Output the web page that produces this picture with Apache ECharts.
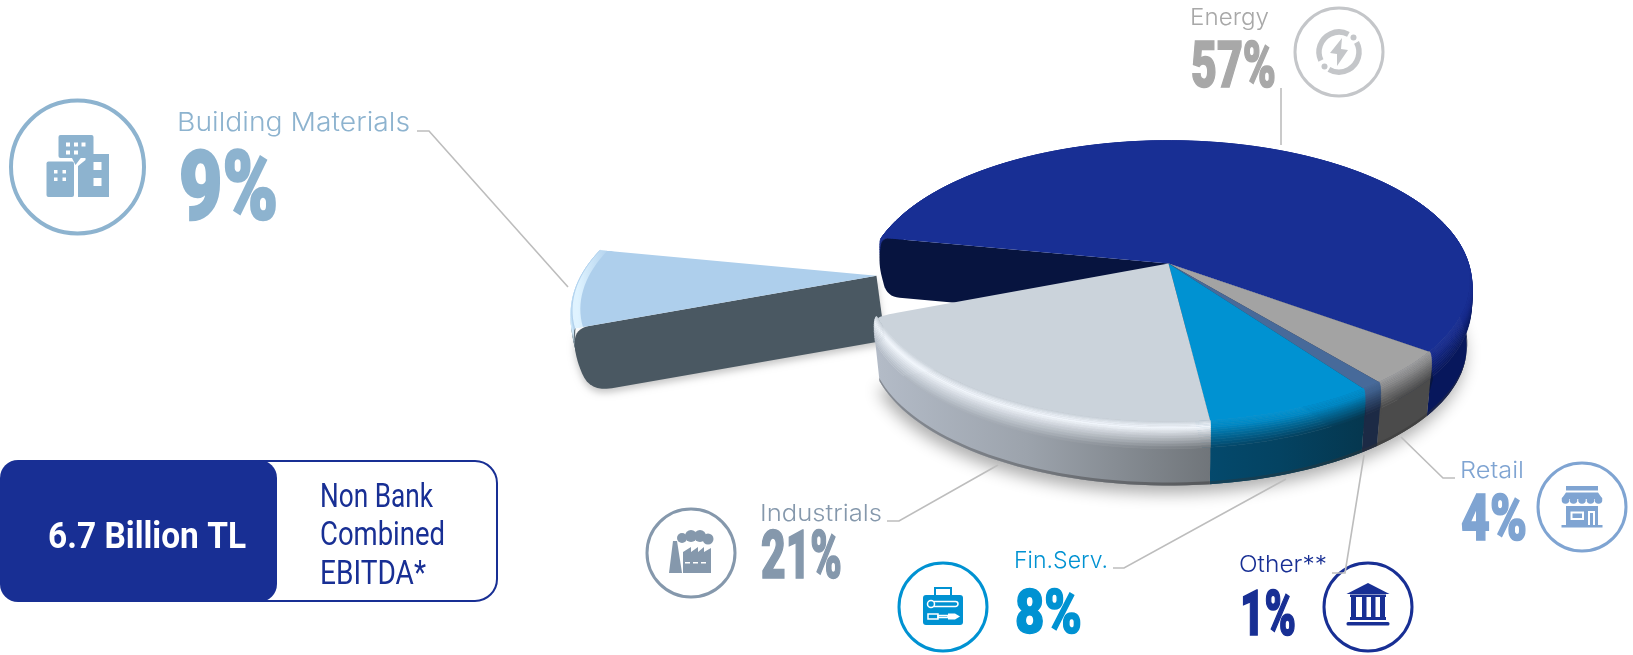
<!DOCTYPE html>
<html>
<head>
<meta charset="utf-8">
<style>html,body{margin:0;padding:0;background:#fff}#chart{width:1633px;height:655px}</style>
<script src="https://cdn.jsdelivr.net/npm/echarts@6/dist/echarts.min.js"></script>
</head>
<body>
<div id="chart"></div>
<script>
// Non-bank combined EBITDA by sector, clockwise from the back-left edge of Energy
const sectorNames = ['Energy', 'Retail', 'Other**', 'Fin.Serv.', 'Industrials', 'Building Materials'];
const sectorValues = [57, 4, 1, 8, 21, 9];
const explodedShare = [0, 0, 0, 0, 0, 0.97];

const totalLabel = '6.7 Billion TL';
const totalCaption = ['Non Bank', 'Combined', 'EBITDA*'];

const NAVY = '#182F94';

// Surface colours for each slice
const sliceSkins = [
  { face: '#182F94', glow: '#15298a', wallL: '#07175c', wallR: '#07175c', cut: '#07143f', corner: 8, reach: 1, cutDepth: 0.9 },
  { face: '#a3a3a3', glow: '#8e8e8e', wallL: '#4b4b4b', wallR: '#4b4b4b', cut: '#4b4b4b', corner: 0, reach: 1, cutDepth: 0.9 },
  { face: '#476a9a', glow: '#3e5f8c', wallL: '#1c2a45', wallR: '#1c2a45', cut: '#1c2a45', corner: 0, reach: 1, cutDepth: 0.9 },
  { face: '#0092d2', glow: '#0088c4', wallL: '#04496c', wallR: '#05374f', cut: '#04496c', corner: 0, reach: 1, cutDepth: 0.9 },
  { face: '#cbd3db', glow: '#f1f6fc', wallL: '#b3bbc7', wallR: '#70757a', cut: '#b3bbc7', corner: 22, reach: 1, cutDepth: 0.9 },
  { face: '#aecfec', glow: '#d8f0ff', wallL: '#4a5862', wallR: '#4a5862', cut: '#4a5862', corner: 14, reach: 0.975, cutDepth: 1 }
];
// Back slices first so the nearer ones overlap them
const paintRank = [0, 2, 3, 4, 5, 1];

// Ground-plane projection of the pie
const PIE = { cx: 1168.5, cy: 263.5, a: 299, b: 138.3, k: 0.126, depth: 65, shrink: 0.03, start: 281 };

function project(phiDeg, r, z, ex, ey) {
  const p = phiDeg * Math.PI / 180;
  const u = r * Math.sin(p) + ex;
  const v = -r * Math.cos(p) + ey;
  const d = 1 - PIE.k * v;
  const s = 1 - PIE.shrink * z;
  return [PIE.cx + PIE.a * u / d * s, PIE.cy + PIE.b * v / d * s + PIE.depth * z];
}

function arcPhis(a0, a1, step) {
  const n = Math.max(2, Math.ceil((a1 - a0) / step));
  const out = [];
  for (let i = 0; i <= n; i++) out.push(a0 + (a1 - a0) * i / n);
  return out;
}

function hexRgb(h) { return [1, 3, 5].map(i => parseInt(h.substr(i, 2), 16)); }
function mix(c1, c2, t) {
  const a = hexRgb(c1), b = hexRgb(c2);
  return '#' + a.map((v, i) => Math.round(v + (b[i] - v) * t).toString(16).padStart(2, '0')).join('');
}

// Replace listed polygon corners with short curves
function softenCorners(pts, corners) {
  const out = [];
  pts.forEach((p, i) => {
    const r = corners[i];
    if (!r) { out.push(p); return; }
    const prev = pts[(i - 1 + pts.length) % pts.length];
    const next = pts[(i + 1) % pts.length];
    const toward = (q) => {
      const dx = q[0] - p[0], dy = q[1] - p[1], l = Math.hypot(dx, dy) || 1, m = Math.min(r, l / 2);
      return [p[0] + dx / l * m, p[1] + dy / l * m];
    };
    const a = toward(prev), b = toward(next);
    for (let j = 0; j <= 8; j++) {
      const t = j / 8, w = 1 - t;
      out.push([w * w * a[0] + 2 * w * t * p[0] + t * t * b[0], w * w * a[1] + 2 * w * t * p[1] + t * t * b[1]]);
    }
  });
  return out;
}

function sideGradient(left, right, x0, x1) {
  return { type: 'linear', x: x0, y: 0, x2: x1, y2: 0, global: true,
    colorStops: [{ offset: 0, color: left }, { offset: 0.45, color: mix(left, right, 0.35) }, { offset: 1, color: right }] };
}

// Longest unbroken stretch of the arc whose outer wall can show
function frontRun(phis) {
  let best = [], run = [];
  phis.forEach(p => {
    if (-Math.cos(p * Math.PI / 180) > -0.5) {
      run.push(p);
      if (run.length > best.length) best = run;
    } else {
      run = [];
    }
  });
  return best;
}

function renderSlice(params, api) {
  const i = params.dataIndex;
  const value = api.value(0);
  const total = sectorValues.reduce((s, v) => s + v, 0);
  const before = sectorValues.slice(0, i).reduce((s, v) => s + v, 0);
  const a0 = PIE.start + before / total * 360;
  const a1 = a0 + value / total * 360;
  const mid = (a0 + a1) / 2 * Math.PI / 180;
  const ex = explodedShare[i] * Math.sin(mid);
  const ey = -explodedShare[i] * Math.cos(mid);
  const skin = sliceSkins[i];
  const base = paintRank[i] * 100 + 10;
  const phis = arcPhis(a0, a1, 2);
  const at = (phi, r, z) => project(phi, r * skin.reach, z, ex, ey);
  const kids = [];

  // Soft ground shadow below the attached slices
  if (i === 4) {
    const ring = arcPhis(a0 - 110, a1, 3).map(p => at(p, 1.02, 1));
    kids.push({ type: 'polygon', z2: -50, shape: { points: ring }, style: {
      fill: '#9a9a9a', shadowBlur: 16, shadowColor: 'rgba(0,0,0,0.32)', shadowOffsetX: -2, shadowOffsetY: 8 } });
  }

  const outer = phis.map(p => at(p, 1.012, 0.5));
  const xs = outer.map(q => q[0]);
  const x0 = Math.min.apply(null, xs), x1 = Math.max.apply(null, xs);

  // Outer wall and rounded rim, bottom band first
  const front = explodedShare[i] > 0 ? [] : frontRun(phis);
  if (front.length > 1) {
    const bot = front.map(p => at(p, 1.02, 1));
    const top = front.map(p => at(p, 1.016, 0.4));
    kids.push({ type: 'polygon', z2: base, shape: { points: top.concat(bot.reverse()) },
      style: { fill: sideGradient(skin.wallL, skin.wallR, x0, x1) } });
    const lipA = front.map(p => at(p, 1.02, 0.95));
    const lipB = front.map(p => at(p, 1.02, 1));
    kids.push({ type: 'polygon', z2: base + 1, shape: { points: lipA.concat(lipB.reverse()) },
      style: { fill: sideGradient(mix(skin.wallL, '#333333', 0.35), mix(skin.wallR, '#333333', 0.45), x0, x1) } });
  }
  const steps = 14;
  for (let s = steps - 1; s >= 0; s--) {
    const t0 = s / steps, t1 = (s + 1) / steps;
    const q = (t) => ({ r: 1 + 0.016 * Math.sin(t * Math.PI / 2), z: 0.4 * (1 - Math.cos(t * Math.PI / 2)) });
    const band = (t) => phis.map(p => at(p, q(t).r, q(t).z));
    const tm = (t0 + t1) / 2;
    const shade = (wall) => tm < 0.4 ? mix(skin.face, skin.glow, tm / 0.4) : mix(skin.glow, wall, (tm - 0.4) / 0.6);
    const fill = sideGradient(shade(skin.wallL), shade(skin.wallR), x0, x1);
    kids.push({ type: 'polygon', z2: base + 10 + (steps - s),
      shape: { points: band(t0).concat(band(t1).reverse()) },
      style: { fill: fill, stroke: fill, lineWidth: 0.6 } });
  }

  // Radial cut walls that turn toward the viewer, with a bulge at the rim
  const cutWall = (phi, rank, soft) => {
    const dz = skin.cutDepth;
    const pts = [at(phi, 1, 0), at(phi, 0, 0), at(phi, 0, dz), at(phi, 1.01, dz), at(phi, 1.025, 0.4)];
    kids.push({ type: 'polygon', z2: base + 40 + rank, shape: { points: softenCorners(pts, [soft, 0, 0, soft * 1.6, soft * 1.6]) },
      style: Object.assign({ fill: skin.cut }, i === 5 ? { shadowBlur: 7, shadowColor: 'rgba(0,0,0,0.22)', shadowOffsetY: 4 } : {}) });
  };
  if (-Math.cos((a1 + 90) * Math.PI / 180) > 0) cutWall(a1, 0, 0);
  if (-Math.cos((a0 - 90) * Math.PI / 180) > 0) cutWall(a0, 1, skin.corner);

  // Flat top of the slice
  const rim = phis.map(p => at(p, 1, 0));
  const apex = at(0, 0, 0);
  const facePts = [apex].concat(rim);
  const corners = facePts.map(() => 0);
  corners[1] = i === 5 || i === 0 ? skin.corner : 0;
  corners[facePts.length - 1] = i === 4 || i === 5 ? skin.corner : 0;
  kids.push({ type: 'polygon', z2: base + 60, shape: { points: softenCorners(facePts, corners) }, style: { fill: skin.face } });

  // Pale edge along the far rim of the detached slice
  if (explodedShare[i] > 0) {
    const inner = phis.map(p => at(p, 0.975, 0));
    const lit = { type: 'linear', x: x0, y: 0, x2: x0 + 34, y2: 0, global: true,
      colorStops: [{ offset: 0, color: '#dff3ff' }, { offset: 1, color: '#aecfec' }] };
    kids.push({ type: 'polygon', z2: base + 61, shape: { points: rim.concat(inner.reverse()) }, style: { fill: lit } });
  }

  return { type: 'group', children: kids };
}

// Text helpers: stretch a run of text to a measured width and cap height
const measureCtx = document.createElement('canvas').getContext('2d');
function fitText(text, font, emPx, capRatio, x, width, baseline, capHeight, fill, weight) {
  measureCtx.font = font;
  const w = measureCtx.measureText(text).width;
  return {
    type: 'text', x: x, y: baseline - capHeight / 2 + capHeight * 0.115,
    scaleX: width / w, scaleY: capHeight / (emPx * capRatio), z: 20,
    style: Object.assign({ text: text, x: 0, y: 0, font: font, fill: fill, align: 'left', verticalAlign: 'middle' },
      weight ? { stroke: fill, lineWidth: weight } : {})
  };
}
const LABEL_FONT = '300 26px Inter';
const VALUE_FONT = '900 100px Roboto';
function caption(text, x, width, baseline, capH, fill) { return fitText(text, LABEL_FONT, 26, 0.727, x, width, baseline, capH, fill); }
function figure(text, x, width, top, bottom, fill) { return fitText(text, VALUE_FONT, 100, 0.711, x, width, bottom, bottom - top, fill, 2.5); }

function leader(points) {
  return { type: 'polyline', z: 5, shape: { points: points }, style: { stroke: '#bdbdbd', lineWidth: 1.6, fill: null } };
}
function badge(cx, cy, r, lw, color, icon) {
  return { type: 'group', x: cx, y: cy, z: 10, children: [
    { type: 'circle', shape: { cx: 0, cy: 0, r: r }, style: { fill: '#fff', stroke: color, lineWidth: lw } }
  ].concat(icon(color)) };
}
function box(x0, y0, x1, y1, fill, r) {
  return { type: 'rect', shape: { x: x0, y: y0, width: x1 - x0, height: y1 - y0, r: r || 0 }, style: { fill: fill } };
}
function poly(points, fill) { return { type: 'polygon', shape: { points: points }, style: { fill: fill } }; }
function disc(x, y, r, fill) { return { type: 'circle', shape: { cx: x, cy: y, r: r }, style: { fill: fill } }; }

// Pictograms, drawn about the centre of each badge
function iconBuildings(c) {
  const w = '#fff';
  const out = [
    box(-19, -32, 16, -9, c, 2),
    poly([[-6, -10], [4, -10], [-2, -2]], c),
    box(-31, -5.5, -3.5, 30, c, 2),
    poly([[0.5, 30], [0.5, -1], [8, -7], [8, -13], [31.5, -13], [31.5, 30]], c),
    box(16, -5, 24, 3, w), box(16, 11, 24, 19, w)
  ];
  [-11.5, -3.5, 4].forEach(x => out.push(box(x, -24.5, x + 4, -20.5, w)));
  [-11.5, -3.5].forEach(x => out.push(box(x, -16.5, x + 4, -12.5, w)));
  [-23.5, -15].forEach(x => { out.push(box(x, 3, x + 3.5, 6.5, w)); out.push(box(x, 10.5, x + 3.5, 14, w)); });
  return out;
}
function iconEnergy(c) {
  const arc = (s, e) => ({ type: 'arc', shape: { cx: 0, cy: 0, r: 20, startAngle: s, endAngle: e, clockwise: true },
    style: { stroke: c, lineWidth: 5.5, fill: null } });
  return [
    arc(-0.5, 2.1), arc(2.7, 5.2),
    disc(14.5, -14.5, 3, c), disc(-14.5, 14.5, 3, c),
    poly([[3, -14], [-9, 1], [-2, 2], [-2, 14], [9, -2], [2, -3]], c)
  ];
}
function iconFactory(c) {
  const w = '#fff';
  return [
    poly([[-18, -12], [-14, -12], [-9, 20], [-22, 20]], c),
    disc(-9, -15, 5, c), disc(0, -17, 6, c), disc(9, -17, 6, c), disc(17, -14, 5.5, c),
    poly([[-8, 20], [-8, -1], [0, -6], [0, -1], [7, -6], [7, -1], [13, -6], [13, -1], [20, -5], [20, 20]], c),
    box(-6, 9, -1, 10.5, w), box(2, 9, 7, 10.5, w), box(10, 9, 15, 10.5, w)
  ];
}
function iconToolbox(c) {
  const w = '#fff';
  const outline = (x, y, wd, h, r) => ({ type: 'rect', shape: { x: x, y: y, width: wd, height: h, r: r }, style: { stroke: w, lineWidth: 1.5, fill: null } });
  return [
    { type: 'rect', shape: { x: -8, y: -19, width: 16, height: 8 }, style: { stroke: c, lineWidth: 2, fill: '#fff' } },
    box(-20, -12, 20, 18, c, 3),
    outline(-11, -5.5, 26, 5, 2.5), { type: 'circle', shape: { cx: -12, cy: -3, r: 3.5 }, style: { stroke: w, lineWidth: 1.5, fill: c } },
    outline(-15, 7, 10, 5, 0), outline(-5, 8.5, 10, 2, 0),
    poly([[5, 6.5], [12, 6.5], [17, 9.5], [12, 12.5], [5, 12.5]], w)
  ];
}
function iconBank(c) {
  return [
    poly([[0, -24], [21.5, -13], [-21.5, -13]], c),
    box(-18, -12.5, 18, -10, c),
    box(-17, -10, -12, 10, c), box(-6, -10, -1.5, 10, c), box(3, -10, 7.5, 10, c), box(12, -10, 17, 10, c),
    box(-18, 10, 18, 13, c), box(-21.5, 15, 21.5, 18.5, c, 1.5)
  ];
}
function iconStore(c) {
  const w = '#fff';
  const out = [box(-16, -21, 16, -16.5, c), poly([[-16, -14.5], [16, -14.5], [20.5, -8], [-20.5, -8]], c)];
  [-16.5, -8.5, 0, 8.5, 16.5].forEach(x => out.push(disc(x, -7, 3.8, c)));
  out.push(
    box(-16, -1, 16, 18, c), box(-20.5, 18, 20.5, 20.5, c),
    box(-16, -3, 16, -1, w),
    box(-11.5, 4.5, 2, 13, w), box(-9.5, 6.5, 0, 11, c),
    box(6, 4, 13, 18, w), box(8, 6, 11, 18, c)
  );
  return out;
}

const valueOf = (name) => sectorValues[sectorNames.indexOf(name)] + '%';

const annotations = [
  // Building Materials
  caption('Building Materials', 177, 233, 130, 19, '#8db3cf'),
  figure(valueOf('Building Materials'), 179, 99, 152, 221, '#8db3cf'),
  leader([[417, 131], [429, 131], [568, 287]]),
  badge(77.5, 167, 66.5, 4, '#8db3cf', iconBuildings),
  // Energy
  caption('Energy', 1190, 79, 25, 17, '#a8a8a8'),
  figure(valueOf('Energy'), 1191, 85, 43, 89, '#a8a8a8'),
  leader([[1281, 88], [1281, 145]]),
  badge(1339, 52, 44, 3, '#c4c6c9', iconEnergy),
  // Retail
  caption('Retail', 1460, 64, 478, 17, '#7fa4d2'),
  figure(valueOf('Retail'), 1461, 66, 496, 542, '#7fa4d2'),
  leader([[1401, 437], [1443, 478], [1455, 478]]),
  badge(1582, 507, 44, 3, '#7fa4d2', iconStore),
  // Other
  caption('Other**', 1239, 88, 572, 17, NAVY),
  leader([[1364, 455], [1345, 573], [1332, 573]]),
  figure(valueOf('Other**'), 1240, 56, 592, 637, NAVY),
  badge(1368, 607, 44, 3, NAVY, iconBank),
  // Financial services
  caption('Fin.Serv.', 1014, 94, 568, 17, '#0092d2'),
  figure(valueOf('Fin.Serv.'), 1015, 67, 590, 634, '#0092d2'),
  leader([[1113, 568], [1124, 568], [1286, 479]]),
  badge(943, 607, 44, 3, '#0092d2', iconToolbox),
  // Industrials
  caption('Industrials', 760, 122, 521, 17, '#8598ac'),
  figure(valueOf('Industrials'), 761, 81, 533, 580, '#8598ac'),
  leader([[887, 521], [899, 521], [998, 465]]),
  badge(691, 553, 44, 3, '#8598ac', iconFactory),
  // Total box
  { type: 'rect', z: 10, shape: { x: 200, y: 461, width: 297, height: 140, r: 22 }, style: { fill: '#fff', stroke: NAVY, lineWidth: 2 } },
  { type: 'rect', z: 11, shape: { x: 0, y: 460, width: 277, height: 142, r: 18 }, style: { fill: NAVY } },
  Object.assign(fitText(totalLabel, '700 36px Roboto', 36, 0.711, 48, 198, 549, 26, '#fff'), { z: 12 })
].concat(totalCaption.map((line, i) => Object.assign(
  fitText(line, '400 33px Roboto', 33, 0.711, 320, [113, 125, 106][i], [508, 546, 585][i], 23, NAVY), { z: 12 })));

const chart = echarts.init(document.getElementById('chart'), null, { renderer: 'canvas' });
chart.setOption({
  animation: false,
  backgroundColor: '#fff',
  series: [{
    type: 'custom',
    coordinateSystem: 'none',
    silent: true,
    data: sectorValues.map((v, i) => ({ name: sectorNames[i], value: [v] })),
    renderItem: renderSlice
  }],
  graphic: { elements: annotations }
});
</script>
</body>
</html>
